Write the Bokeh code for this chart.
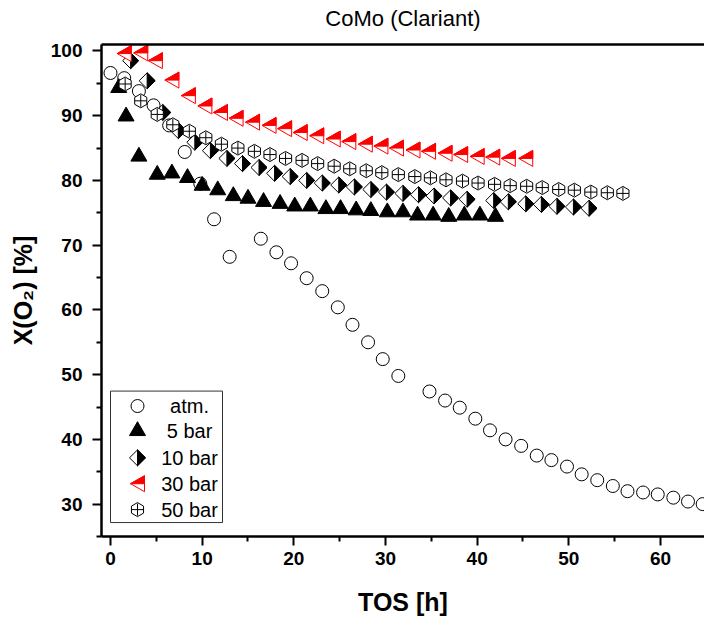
import math
from bokeh.plotting import figure
from bokeh.models import Range1d, LinearAxis, FixedTicker
from bokeh.core.properties import value
from bokeh.embed import file_html
from bokeh.resources import INLINE

# ---------------- data ----------------
atm_x = [0.0, 1.5, 3.1, 4.7, 6.4, 8.1, 9.8, 11.3, 13.0, 16.4, 18.1, 19.7, 21.4, 23.1,
         24.8, 26.4, 28.1, 29.7, 31.4, 34.8, 36.5, 38.1, 39.8, 41.4, 43.1, 44.8, 46.5,
         48.1, 49.8, 51.4, 53.1, 54.8, 56.4, 58.1, 59.7, 61.4, 63.0, 64.6]
atm_y = [96.6, 95.8, 93.8, 91.6, 88.5, 84.4, 79.5, 74.0, 68.2, 71.0, 68.9, 67.2, 64.9, 62.9,
         60.4, 57.7, 55.0, 52.4, 49.8, 47.4, 46.0, 44.9, 43.2, 41.4, 40.0, 39.0, 37.5,
         36.8, 35.8, 34.6, 33.7, 32.8, 32.0, 31.8, 31.5, 31.0, 30.4, 30.0]

bar5_x = [0.9, 1.7, 3.1, 5.1, 6.7, 8.4, 10.0, 11.7, 13.4, 15.0, 16.7, 18.5, 20.1, 21.8,
          23.5, 25.1, 26.8, 28.4, 30.2, 31.9, 33.5, 35.2, 36.9, 38.6, 40.3, 42.0]
bar5_y = [94.3, 89.9, 83.7, 80.9, 81.1, 80.4, 79.2, 78.5, 77.6, 77.2, 76.7, 76.4, 76.0, 76.0,
          75.6, 75.6, 75.4, 75.3, 75.1, 75.1, 74.6, 74.6, 74.4, 74.6, 74.6, 74.4]

bar10_x = [2.2, 4.0, 5.7, 7.4, 9.2, 10.9, 12.7, 14.4, 16.2, 17.9, 19.6, 21.4, 23.1, 24.9,
           26.6, 28.4, 30.1, 31.9, 33.6, 35.3, 37.1, 38.9, 41.8, 43.4, 45.3, 47.0, 48.7,
           50.5, 52.2]
bar10_y = [98.5, 95.4, 90.5, 87.7, 85.9, 84.6, 83.4, 82.6, 82.0, 81.1, 80.6, 80.0, 79.6, 79.3,
           79.0, 78.6, 78.2, 78.0, 77.8, 77.6, 77.3, 77.1, 76.9, 76.7, 76.4, 76.3, 76.0,
           75.9, 75.7]

bar30_x = [1.5, 3.3, 4.9, 6.7, 8.5, 10.3, 12.0, 13.7, 15.5, 17.3, 19.0, 20.7, 22.5, 24.3,
           26.0, 27.8, 29.5, 31.2, 33.0, 34.7, 36.5, 38.2, 40.0, 41.7, 43.4, 45.3]
bar30_y = [99.6, 99.7, 98.5, 95.5, 93.1, 91.5, 90.5, 89.6, 89.0, 88.5, 88.0, 87.4, 86.9, 86.4,
           86.0, 85.6, 85.3, 85.0, 84.7, 84.5, 84.2, 84.0, 83.7, 83.6, 83.4, 83.4]

bar50_x = [1.6, 3.3, 5.1, 6.8, 8.6, 10.4, 12.1, 13.9, 15.7, 17.4, 19.1, 20.9, 22.6, 24.4,
           26.1, 27.9, 29.6, 31.4, 33.2, 34.9, 36.6, 38.4, 40.1, 41.9, 43.6, 45.4, 47.1,
           48.9, 50.6, 52.4, 54.2, 55.9]
bar50_y = [94.9, 92.3, 90.2, 88.6, 87.6, 86.6, 85.6, 85.0, 84.5, 84.0, 83.4, 83.1, 82.6, 82.2,
           81.8, 81.5, 81.2, 80.9, 80.6, 80.4, 80.1, 79.9, 79.6, 79.4, 79.2, 79.1, 78.9,
           78.6, 78.5, 78.2, 78.1, 78.0]

legend_labels = ["atm.", "5 bar", "10 bar", "30 bar", "50 bar"]
x_ticks = [0, 10, 20, 30, 40, 50, 60]
y_ticks = [30, 40, 50, 60, 70, 80, 90, 100]
title_text = "CoMo (Clariant)"
x_label = "TOS [h]"
y_label = "X(O\u2082) [%]"

# ---------------- layout ----------------
X0, X1, Y0, Y1 = -0.98, 64.8, 25.0, 101.0
W, H = 704, 618
ML, MR, MT, MB = 101, 0, 44, 80
FW, FH = W - ML - MR, H - MT - MB
PX = (X1 - X0) / FW   # data units per pixel
PY = (Y1 - Y0) / FH
FONT = "Liberation Sans"


def sx(px):
    return X0 + (px - ML) * PX


def sy(py):
    return Y1 - (py - MT) * PY


p = figure(width=W, height=H, x_range=Range1d(X0, X1), y_range=Range1d(Y0, Y1),
           output_backend="svg", toolbar_location=None,
           min_border_left=ML, min_border_right=MR, min_border_top=MT, min_border_bottom=MB)
p.outline_line_color = None
p.grid.visible = False
p.background_fill_color = "white"
p.border_fill_color = "white"

p.xaxis.ticker = FixedTicker(ticks=x_ticks, minor_ticks=[t + 5 for t in x_ticks])
p.yaxis.ticker = FixedTicker(ticks=y_ticks, minor_ticks=[t - 5 for t in y_ticks])
p.xaxis.axis_label = x_label
p.yaxis.axis_label = y_label
for ax in (p.xaxis[0], p.yaxis[0]):
    ax.axis_line_width = 2.5
    ax.axis_line_color = "black"
    ax.major_tick_line_width = 2
    ax.major_tick_line_color = "black"
    ax.major_tick_out = 9
    ax.major_tick_in = 0
    ax.minor_tick_line_width = 2
    ax.minor_tick_line_color = "black"
    ax.minor_tick_out = 5
    ax.minor_tick_in = 0
    ax.major_label_text_font = FONT
    ax.major_label_text_font_style = "bold"
    ax.major_label_text_font_size = "19px"
    ax.major_label_text_color = "black"
    ax.axis_label_text_font = FONT
    ax.axis_label_text_font_style = "bold"
    ax.axis_label_text_font_size = "25px"
    ax.axis_label_text_color = "black"
p.xaxis.major_label_standoff = 6
p.yaxis.major_label_standoff = 10
p.xaxis.axis_label_standoff = 20
p.yaxis.axis_label_standoff = 11

# top frame line carrying the chart title as its label
top = LinearAxis(ticker=FixedTicker(ticks=[]), axis_line_width=2.5, axis_line_color="black",
                 major_tick_line_color=None, minor_tick_line_color=None,
                 major_tick_out=0, minor_tick_out=0, major_label_standoff=0,
                 axis_label=title_text, axis_label_text_font=FONT,
                 axis_label_text_font_size="22px", axis_label_text_font_style="normal",
                 axis_label_text_color="black", axis_label_standoff=14)
p.add_layout(top, "above")

# ---------------- marker helpers ----------------
DR = 8.0          # diamond half size (px)
TW, TH = 14.0, 16.0  # left triangle width / height (px)


def diamond_full(xs, ys):
    rx, ry = DR * PX, DR * PY
    return ([[x, x + rx, x, x - rx] for x in xs],
            [[y + ry, y, y - ry, y] for y in ys])


def diamond_right(xs, ys):
    rx, ry = DR * PX, DR * PY
    return ([[x, x + rx, x] for x in xs],
            [[y + ry, y, y - ry] for y in ys])


def tri_full(xs, ys):
    hw, hh = TW / 2 * PX, TH / 2 * PY
    return ([[x - hw, x + hw, x + hw] for x in xs],
            [[y, y + hh, y - hh] for y in ys])


def tri_upper(xs, ys):
    hw, hh = TW / 2 * PX, TH / 2 * PY
    return ([[x - hw, x + hw, x + hw] for x in xs],
            [[y, y + hh, y] for y in ys])


def draw_atm(xs, ys):
    p.scatter(xs, ys, marker="circle", size=13, fill_color="white", line_color="black",
              line_width=1)


def draw_5(xs, ys):
    p.scatter(xs, ys, marker="triangle", size=16, fill_color="black", line_color="black",
              line_width=1)


def draw_10(xs, ys):
    a, b = diamond_full(xs, ys)
    p.patches(a, b, fill_color="white", line_color="black", line_width=1)
    a, b = diamond_right(xs, ys)
    p.patches(a, b, fill_color="black", line_color="black", line_width=1)


def draw_30(xs, ys):
    a, b = tri_full(xs, ys)
    p.patches(a, b, fill_color="white", line_color="red", line_width=1)
    a, b = tri_upper(xs, ys)
    p.patches(a, b, fill_color="red", line_color="red", line_width=1)


def draw_50(xs, ys):
    p.scatter(xs, ys, marker="hex", size=14, angle=math.pi / 2, fill_color="white",
              line_color="black", line_width=1)
    p.scatter(xs, ys, marker="cross", size=12, line_color="black", line_width=1)


draw_atm(atm_x, atm_y)
draw_5(bar5_x, bar5_y)
draw_10(bar10_x, bar10_y)
draw_30(bar30_x, bar30_y)
draw_50(bar50_x, bar50_y)

# ---------------- legend ----------------
box_l, box_r, box_t, box_b = 110, 222, 392, 524
row_py = [407, 432, 459, 485, 511]
mark_px, text_px = 137, 189
p.quad(left=[sx(box_l)], right=[sx(box_r)], top=[sy(box_t)], bottom=[sy(box_b)],
       fill_color="white", line_color="#333333", line_width=1)
drawers = [draw_atm, draw_5, draw_10, draw_30, draw_50]
for fn, py in zip(drawers, row_py):
    fn([sx(mark_px)], [sy(py)])
p.text(x=[sx(text_px)] * len(legend_labels), y=[sy(py) for py in row_py], text=legend_labels,
       text_font=value(FONT), text_font_size="20px", text_align="center",
       text_baseline="middle", text_color="black")

open("out.html", "w").write(file_html(p, INLINE))
